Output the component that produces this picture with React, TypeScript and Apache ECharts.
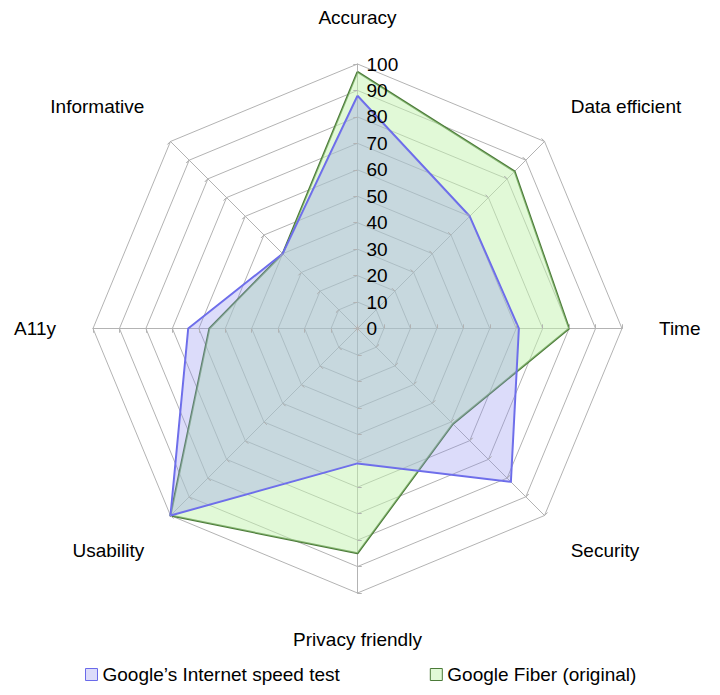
import React, { useEffect, useRef } from 'react';
import * as echarts from 'echarts';

// Indicators listed counter-clockwise from the top (ECharts radar order)
const indicatorNames = ['Accuracy', 'Informative', 'A11y', 'Usability', 'Privacy friendly', 'Security', 'Time', 'Data efficient'];
const speedTestValues = [88, 40, 64, 100, 51, 82, 61, 60];
const fiberValues = [97, 40, 56, 100, 85, 51, 80, 84];
const seriesNames = ['Google’s Internet speed test', 'Google Fiber (original)'];
const axisMin = 0;
const axisMax = 100;
const splitCount = 10;

const FONT = "'Liberation Sans', Arial, sans-serif";
const FS = 19;
const GRID = '#b3b3b3';
const BLUE_LINE = '#6a6aea';
const BLUE_FILL = 'rgb(138,138,238)';
const GREEN_LINE = '#4b7a38';
const GREEN_FILL = 'rgb(195,243,175)';
const CENTER = [357.5, 328.5];
const RADIUS = 264.5;

const upperDiagonal = ['Informative', 'Data efficient'];
const lowerDiagonal = ['Usability', 'Security'];

export default function App() {
  const ref = useRef<HTMLDivElement>(null);
  useEffect(() => {
    document.body.style.margin = '0';
    const chart = echarts.init(ref.current!, null, { renderer: 'svg' });
    chart.setOption({
      animation: false,
      backgroundColor: '#fff',
      textStyle: { fontFamily: FONT },
      legend: {
        left: 80,
        top: 660,
        itemWidth: 12,
        itemHeight: 12,
        itemGap: 90,
        icon: 'rect',
        textStyle: { fontSize: FS, color: '#000', fontFamily: FONT },
        data: [
          { name: seriesNames[0], itemStyle: { color: '#dcdcfa', borderColor: BLUE_LINE, borderWidth: 1 } },
          { name: seriesNames[1], itemStyle: { color: '#e1f9d7', borderColor: GREEN_LINE, borderWidth: 1 } },
        ],
      },
      radar: [
        {
          center: CENTER,
          radius: RADIUS,
          startAngle: 90,
          shape: 'polygon',
          splitNumber: splitCount,
          nameGap: 37,
          axisName: {
            color: '#000',
            fontSize: FS,
            fontFamily: FONT,
            formatter: (name: string) => {
              if (upperDiagonal.includes(name)) return `{up|${name}}`;
              if (lowerDiagonal.includes(name)) return `{down|${name}}`;
              return name;
            },
            rich: {
              up: { padding: [0, 0, 18, 0], color: '#000', fontSize: FS, fontFamily: FONT },
              down: { padding: [18, 0, 0, 0], color: '#000', fontSize: FS, fontFamily: FONT },
            },
          },
          indicator: indicatorNames.map((n) => ({ name: n, min: axisMin, max: axisMax })),
          axisLine: { show: true, lineStyle: { color: GRID, width: 1 } },
          splitLine: { show: true, lineStyle: { color: GRID, width: 1 } },
          splitArea: { show: false },
          axisTick: { show: true, length: 4, lineStyle: { color: GRID, width: 1 } },
          axisLabel: { show: false },
        },
        {
          z: 10,
          center: CENTER,
          radius: RADIUS,
          startAngle: 90,
          shape: 'polygon',
          splitNumber: splitCount,
          axisName: { show: false },
          indicator: indicatorNames.map((n, i) => ({
            name: n,
            min: axisMin,
            max: axisMax,
            ...(i === 0 ? { axisLabel: { show: true } } : {}),
          })),
          axisLine: { show: false },
          splitLine: { show: false },
          splitArea: { show: false },
          axisTick: { show: true, inside: true, length: 4, lineStyle: { color: GRID, width: 1 } },
          axisLabel: { show: false, color: '#000', fontSize: FS, fontFamily: FONT, margin: -9, align: 'left' },
        },
      ],
      series: [
        {
          type: 'radar',
          radarIndex: 0,
          name: seriesNames[1],
          symbol: 'none',
          z: 2,
          lineStyle: { color: GREEN_LINE, width: 2 },
          itemStyle: { color: GREEN_LINE },
          areaStyle: { color: GREEN_FILL, opacity: 0.5 },
          data: [{ name: seriesNames[1], value: fiberValues }],
        },
        {
          type: 'radar',
          radarIndex: 0,
          name: seriesNames[0],
          symbol: 'none',
          z: 3,
          lineStyle: { color: BLUE_LINE, width: 2 },
          itemStyle: { color: BLUE_LINE },
          areaStyle: { color: BLUE_FILL, opacity: 0.3 },
          data: [{ name: seriesNames[0], value: speedTestValues }],
        },
      ],
    });
    return () => chart.dispose();
  }, []);
  return <div ref={ref} style={{ width: 720, height: 695 }} />;
}
